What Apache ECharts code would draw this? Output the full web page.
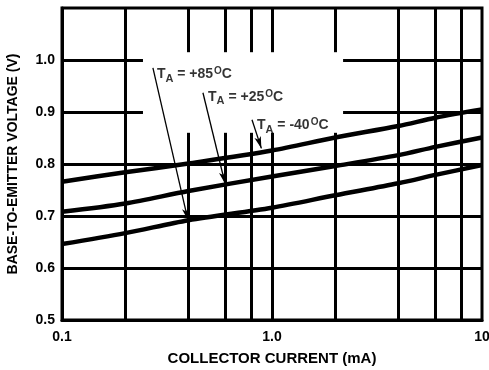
<!DOCTYPE html>
<html>
<head>
<meta charset="utf-8">
<script src="https://cdn.jsdelivr.net/npm/echarts@6/dist/echarts.min.js"></script>
<style>
  html, body { margin: 0; padding: 0; background: #fff; }
  #chart { width: 489px; height: 370px; }
</style>
</head>
<body>
<div id="chart"></div>
<script>
// collector current (mA) and base-emitter voltage (V)
const current = [0.1, 0.2, 0.4, 1, 2, 4, 6, 10]
const vbeM40 = [0.766, 0.784, 0.801, 0.826, 0.851, 0.873, 0.889, 0.905]
const vbe25 = [0.708, 0.724, 0.748, 0.776, 0.796, 0.817, 0.833, 0.851]
const vbe85 = [0.646, 0.667, 0.692, 0.716, 0.740, 0.763, 0.779, 0.798]

// annotation labels and their arrows
const temps = ['+85', '+25', '-40']
const labelX = [0.283, 0.496, 0.848]
const labelY = [0.973, 0.929, 0.875]
const arrowFrom = [[0.271, 0.985], [0.469, 0.937], [0.803, 0.885]]
const arrowTo = [[0.398, 0.692], [0.598, 0.762], [0.89, 0.83]]

// grid lines (some are cut where the labels sit)
const vLines = [0.2, 0.4, 0.6, 0.8, 1, 2, 4, 6, 8]
const vBroken = [0.4, 0.6, 0.8, 1, 2]
const hLines = [0.6, 0.7, 0.8, 0.9, 1.0]
const hBroken = [0.9, 1.0]

const font = '"Liberation Sans", Arial, sans-serif'

function pairs(ys) {
    let out = []
    for (let i = 0; i < current.length; i++) out.push([current[i], ys[i]])
    return out
}

let gridSegs = []
vLines.forEach(function (v) {
    if (vBroken.indexOf(v) >= 0) {
        gridSegs.push([{coord: [v, 0.5]}, {coord: [v, 0.86]}])
        gridSegs.push([{coord: [v, 1.015]}, {coord: [v, 1.1]}])
    } else {
        gridSegs.push([{coord: [v, 0.5]}, {coord: [v, 1.1]}])
    }
})
hLines.forEach(function (h) {
    if (hBroken.indexOf(h) >= 0) {
        gridSegs.push([{coord: [0.1, h]}, {coord: [0.243, h]}])
        gridSegs.push([{coord: [2.18, h]}, {coord: [10, h]}])
    } else {
        gridSegs.push([{coord: [0.1, h]}, {coord: [10, h]}])
    }
})

let arrows = []
for (let i = 0; i < temps.length; i++) {
    arrows.push([{coord: arrowFrom[i]}, {coord: arrowTo[i]}])
}

let labelPts = []
for (let i = 0; i < temps.length; i++) {
    labelPts.push({value: [labelX[i], labelY[i]], t: temps[i]})
}

function curve(name, ys) {
    return {
        name: name,
        type: 'line',
        data: pairs(ys),
        smooth: 0.3,
        symbol: 'none',
        silent: true,
        z: 5,
        lineStyle: {color: '#000', width: 4.5}
    }
}

const option = {
    animation: false,
    backgroundColor: '#fff',
    grid: {
        left: 62, right: 7, top: 8, bottom: 50,
        outerBoundsMode: 'none',
        show: true, borderColor: '#000', borderWidth: 3
    },
    xAxis: {
        type: 'log',
        logBase: 10,
        min: 0.1,
        max: 10,
        name: 'COLLECTOR CURRENT (mA)',
        nameLocation: 'middle',
        nameGap: 31,
        nameTextStyle: {color: '#000', fontFamily: font, fontWeight: 'bold', fontSize: 15},
        axisLine: {lineStyle: {color: '#000', width: 3}},
        axisTick: {show: false},
        splitLine: {show: false},
        minorSplitLine: {show: false},
        axisLabel: {
            color: '#000', fontFamily: font, fontWeight: 'bold', fontSize: 14, margin: 10,
            formatter: function (v) {
                let r = Math.round(v * 1000) / 1000
                if (r === 1) return '1.0'
                return String(r)
            }
        }
    },
    yAxis: {
        type: 'value',
        min: 0.5,
        max: 1.1,
        interval: 0.1,
        name: 'BASE-TO-EMITTER VOLTAGE (V)',
        nameLocation: 'middle',
        nameRotate: 90,
        nameGap: 42,
        nameTextStyle: {color: '#000', fontFamily: font, fontWeight: 'bold', fontSize: 14},
        axisLine: {show: true, lineStyle: {color: '#000', width: 3}},
        axisTick: {show: false},
        splitLine: {show: false},
        axisLabel: {
            color: '#000', fontFamily: font, fontWeight: 'bold', fontSize: 14, margin: 7,
            formatter: function (v) {
                let r = Math.round(v * 10) / 10
                if (r > 1.05) return ''
                return r.toFixed(1)
            }
        }
    },
    series: [
        {
            name: 'grid',
            type: 'line',
            data: [],
            silent: true,
            markLine: {
                silent: true,
                symbol: ['none', 'none'],
                label: {show: false},
                lineStyle: {color: '#000', width: 3, type: 'solid'},
                emphasis: {disabled: true},
                data: gridSegs
            }
        },
        curve('-40', vbeM40),
        curve('+25', vbe25),
        curve('+85', vbe85),
        {
            name: 'arrows',
            type: 'line',
            data: [],
            silent: true,
            z: 6,
            markLine: {
                silent: true,
                symbol: ['none', 'arrow'],
                symbolSize: [5, 12],
                label: {show: false},
                lineStyle: {color: '#000', width: 1.3, type: 'solid'},
                itemStyle: {color: '#000'},
                emphasis: {disabled: true},
                data: arrows
            }
        },
        {
            name: 'labels',
            type: 'scatter',
            data: labelPts,
            symbolSize: 0,
            silent: true,
            z: 7,
            label: {
                show: true,
                position: 'right',
                distance: 0,
                color: '#000',
                formatter: function (p) {
                    return '{b|T}{s|A}{b| = ' + p.data.t + '}{o|O}{b|C}'
                },
                rich: {
                    b: {fontFamily: font, fontWeight: 'bold', fontSize: 14, color: '#000', verticalAlign: 'middle'},
                    s: {fontFamily: font, fontWeight: 'bold', fontSize: 11, color: '#000', padding: [9, 0, 0, 0]},
                    o: {fontFamily: font, fontWeight: 'bold', fontSize: 10, color: '#000', padding: [0, 0, 6, 1]}
                }
            }
        }
    ]
}

const myChart = echarts.init(document.getElementById('chart'))
myChart.setOption(option, true)
</script>
</body>
</html>
